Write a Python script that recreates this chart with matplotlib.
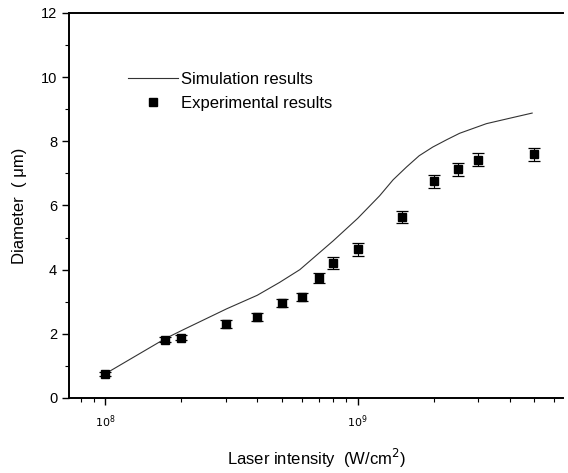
import matplotlib.pyplot as plt
from matplotlib.lines import Line2D
import numpy as np

plt.rcParams['font.family'] = ['Liberation Sans', 'DejaVu Sans']

# simulation curve
sim_x = [1e8, 1.73e8, 2.03e8, 3.03e8, 4.0e8, 4.9e8, 5.9e8, 8.0e8, 1.0e9,
         1.22e9, 1.38e9, 1.56e9, 1.75e9, 1.98e9, 2.25e9, 2.53e9, 3.23e9,
         4.0e9, 4.9e9]
sim_y = [0.75, 1.85, 2.12, 2.78, 3.2, 3.6, 4.0, 4.9, 5.6,
         6.3, 6.8, 7.2, 7.55, 7.82, 8.05, 8.25, 8.55, 8.72, 8.88]

# experimental points
exp_x = [1e8, 1.73e8, 2e8, 3e8, 4e8, 5e8, 6e8, 7e8, 8e8, 1e9,
         1.5e9, 2e9, 2.5e9, 3e9, 5e9]
exp_y = [0.75, 1.81, 1.88, 2.31, 2.53, 2.95, 3.15, 3.74, 4.2, 4.64,
         5.64, 6.76, 7.13, 7.42, 7.6]
exp_err = [0.05, 0.08, 0.08, 0.12, 0.12, 0.12, 0.12, 0.15, 0.18, 0.2,
           0.2, 0.2, 0.2, 0.2, 0.2]

fig = plt.figure(figsize=(5.68, 4.73), dpi=100)
ax = fig.add_axes([0.1215, 0.1586, 0.87, 0.814])

ax.plot(sim_x, sim_y, color='#333333', lw=0.8)
ax.errorbar(exp_x, exp_y, yerr=exp_err, fmt='s', color='black', ms=6,
            ecolor='black', elinewidth=0.8, capsize=4, capthick=0.9)

ax.set_xscale('log')
ax.set_xlim(7.2e7, 6.5e9)
ax.set_ylim(0, 12)
ax.set_yticks([0, 2, 4, 6, 8, 10, 12])
ax.set_yticks([1, 3, 5, 7, 9, 11], minor=True)
ax.set_xticks([1e8, 1e9])
ax.set_xticklabels([r'$10^8$', r'$10^9$'])

ax.spines['right'].set_visible(False)
for s in ['left', 'bottom', 'top']:
    ax.spines[s].set_linewidth(1.4)

ax.tick_params(axis='both', which='major', direction='out', length=5,
               width=1.0, labelsize=10.5)
ax.tick_params(axis='both', which='minor', direction='out', length=3,
               width=0.8)
ax.tick_params(axis='x', which='major', labelsize=8, pad=6)

ax.set_xlabel('Laser intensity  (W/cm$^2$)', fontsize=12, labelpad=12)
ax.set_ylabel('Diameter  ( \u03bcm)', fontsize=12, labelpad=10)

handles = [Line2D([], [], color='#333333', lw=0.8),
           Line2D([], [], ls='none', marker='s', color='black', ms=6)]
ax.legend(handles, ['Simulation results', 'Experimental results'],
          loc='upper left', bbox_to_anchor=(0.09, 0.885), frameon=False,
          fontsize=12, handlelength=3.0, handletextpad=0.15,
          labelspacing=0.5)

fig.savefig('out.png', dpi=100)
